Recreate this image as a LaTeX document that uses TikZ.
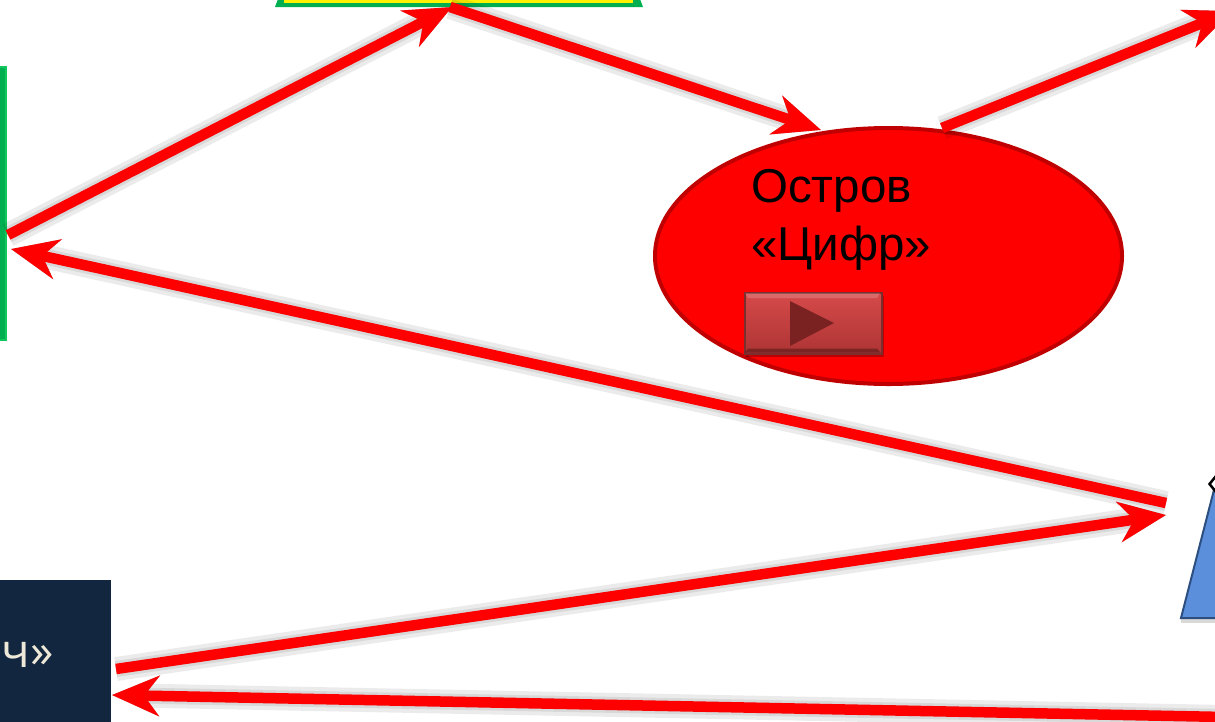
\documentclass[tikz,border=0pt]{standalone}
\usepackage{fontspec}
\setmainfont{Liberation Sans}
\newfontfamily\boxfont{Open Sans}
\usetikzlibrary{arrows.meta,shapes.geometric}
\definecolor{arrowred}{HTML}{FF0000}
\definecolor{rimred}{HTML}{C00000}
\definecolor{navybox}{HTML}{12263F}
\definecolor{greenrim}{HTML}{00B050}
\definecolor{greenlight}{HTML}{12C85E}
\definecolor{triblue}{HTML}{5B8FDC}
\definecolor{triedge}{HTML}{2D4F80}
\definecolor{btntop}{HTML}{D64A4A}
\definecolor{btnbot}{HTML}{AE3434}
\definecolor{btnrim}{HTML}{7A2E2E}
\definecolor{btnplay}{HTML}{7A2222}
\definecolor{boxtext}{HTML}{EEE8D8}
\tikzset{
  x=1pt,y=-1pt,
  link/.style={draw=arrowred,line width=10.5pt,line cap=butt,
    -{Stealth[length=47pt,width=40pt,inset=15pt]}},
  linkshadow/.style={draw=black,opacity=.08,line cap=butt,
    -{Stealth[length=47pt,width=40pt,inset=15pt]}},
  island/.style={ellipse,draw=rimred,fill=arrowred,line width=4pt,inner sep=0pt},
  caption/.style={text=black,align=left,anchor=north west,inner sep=0pt,
    font=\fontsize{47.5}{58}\selectfont},
  pushbutton/.style={rectangle,anchor=north west,inner sep=0pt,
    minimum width=137pt,minimum height=61pt,draw=btnrim,line width=1.5pt,
    top color=btntop,bottom color=btnbot},
}
\newcommand{\flowarrow}[2]{%
  \begin{scope}[shift={(4,13)}]
    \draw[linkshadow,line width=5pt] (#1) -- (#2);
    \draw[linkshadow,line width=10pt] (#1) -- (#2);
    \draw[linkshadow,line width=16pt] (#1) -- (#2);
    \draw[linkshadow,line width=24pt] (#1) -- (#2);
  \end{scope}
  \draw[link] (#1) -- (#2);
}
\begin{document}
\begin{tikzpicture}
\useasboundingbox (0,0) rectangle (1215,721);
\clip (0,0) rectangle (1215,721);
\fill[white] (0,0) rectangle (1215,721);

% anchor points of the connectors
\coordinate (a1s) at (8,235);     \coordinate (a1e) at (452,7);
\coordinate (a2s) at (450,7);     \coordinate (a2e) at (821,130);
\coordinate (a3s) at (942,128);   \coordinate (a3e) at (1232,11);
\coordinate (a4s) at (1166,503);  \coordinate (a4e) at (11,249);
\coordinate (a5s) at (116,669);   \coordinate (a5e) at (1166,515);
\coordinate (a6s) at (1225,717);  \coordinate (a6e) at (112,695);

% top banner
\fill[greenrim] (275,7) -- (278,-1) -- (640,-1) -- (643,7) -- cycle;
\fill[yellow] (284,-1) rectangle (633,2.6);

% left panel
\node[rectangle,draw=greenlight,fill=greenrim,line width=2pt,anchor=north west,
  inner sep=0pt,minimum width=11pt,minimum height=273pt] (panel) at (-6,66) {};

% dark box
\node[rectangle,fill=navybox,anchor=north west,inner sep=0pt,
  minimum width=131pt,minimum height=161pt] (darkbox) at (-20,580) {};
\node[anchor=base east,inner sep=0pt,text=boxtext,
  font=\boxfont\fontsize{47}{47}\selectfont] (darktext) at (54,667) {ч»};

% blue triangle
\fill[black,opacity=.15] (1181,623) -- (1215,623) -- (1215,618) -- (1181,618) -- cycle;
\draw[fill=triblue,draw=triedge,line width=2pt,line join=miter]
  (1181,618) -- (1216,482) -- (1216,618) -- cycle;
\node[diamond,draw=black,fill=white,line width=2.5pt,inner sep=0pt,
  minimum width=18pt,minimum height=22pt] (marker) at (1218,484) {};

% island
\node[island,minimum width=467pt,minimum height=256pt] (isl) at (888.5,256) {};
\node[caption] (capt) at (751,169) {Остров\\«Цифр»};

% button
\fill[black,opacity=.25] (746,296) rectangle (884,357);
\node[pushbutton] (btn) at (744,292) {};
\fill[white,opacity=.18] (745,293) -- (880,293) -- (877,298) -- (748,298) -- cycle;
\fill[black,opacity=.3] (745,352.5) -- (880.5,352.5) -- (877,348.5) -- (748,348.5) -- cycle;
\fill[btnplay] (790,301) -- (834,323) -- (790,346) -- cycle;

% connectors
\flowarrow{a1s}{a1e}
\flowarrow{a2s}{a2e}
\flowarrow{a3s}{a3e}
\flowarrow{a4s}{a4e}
\flowarrow{a5s}{a5e}
\flowarrow{a6s}{a6e}
\end{tikzpicture}
\end{document}
